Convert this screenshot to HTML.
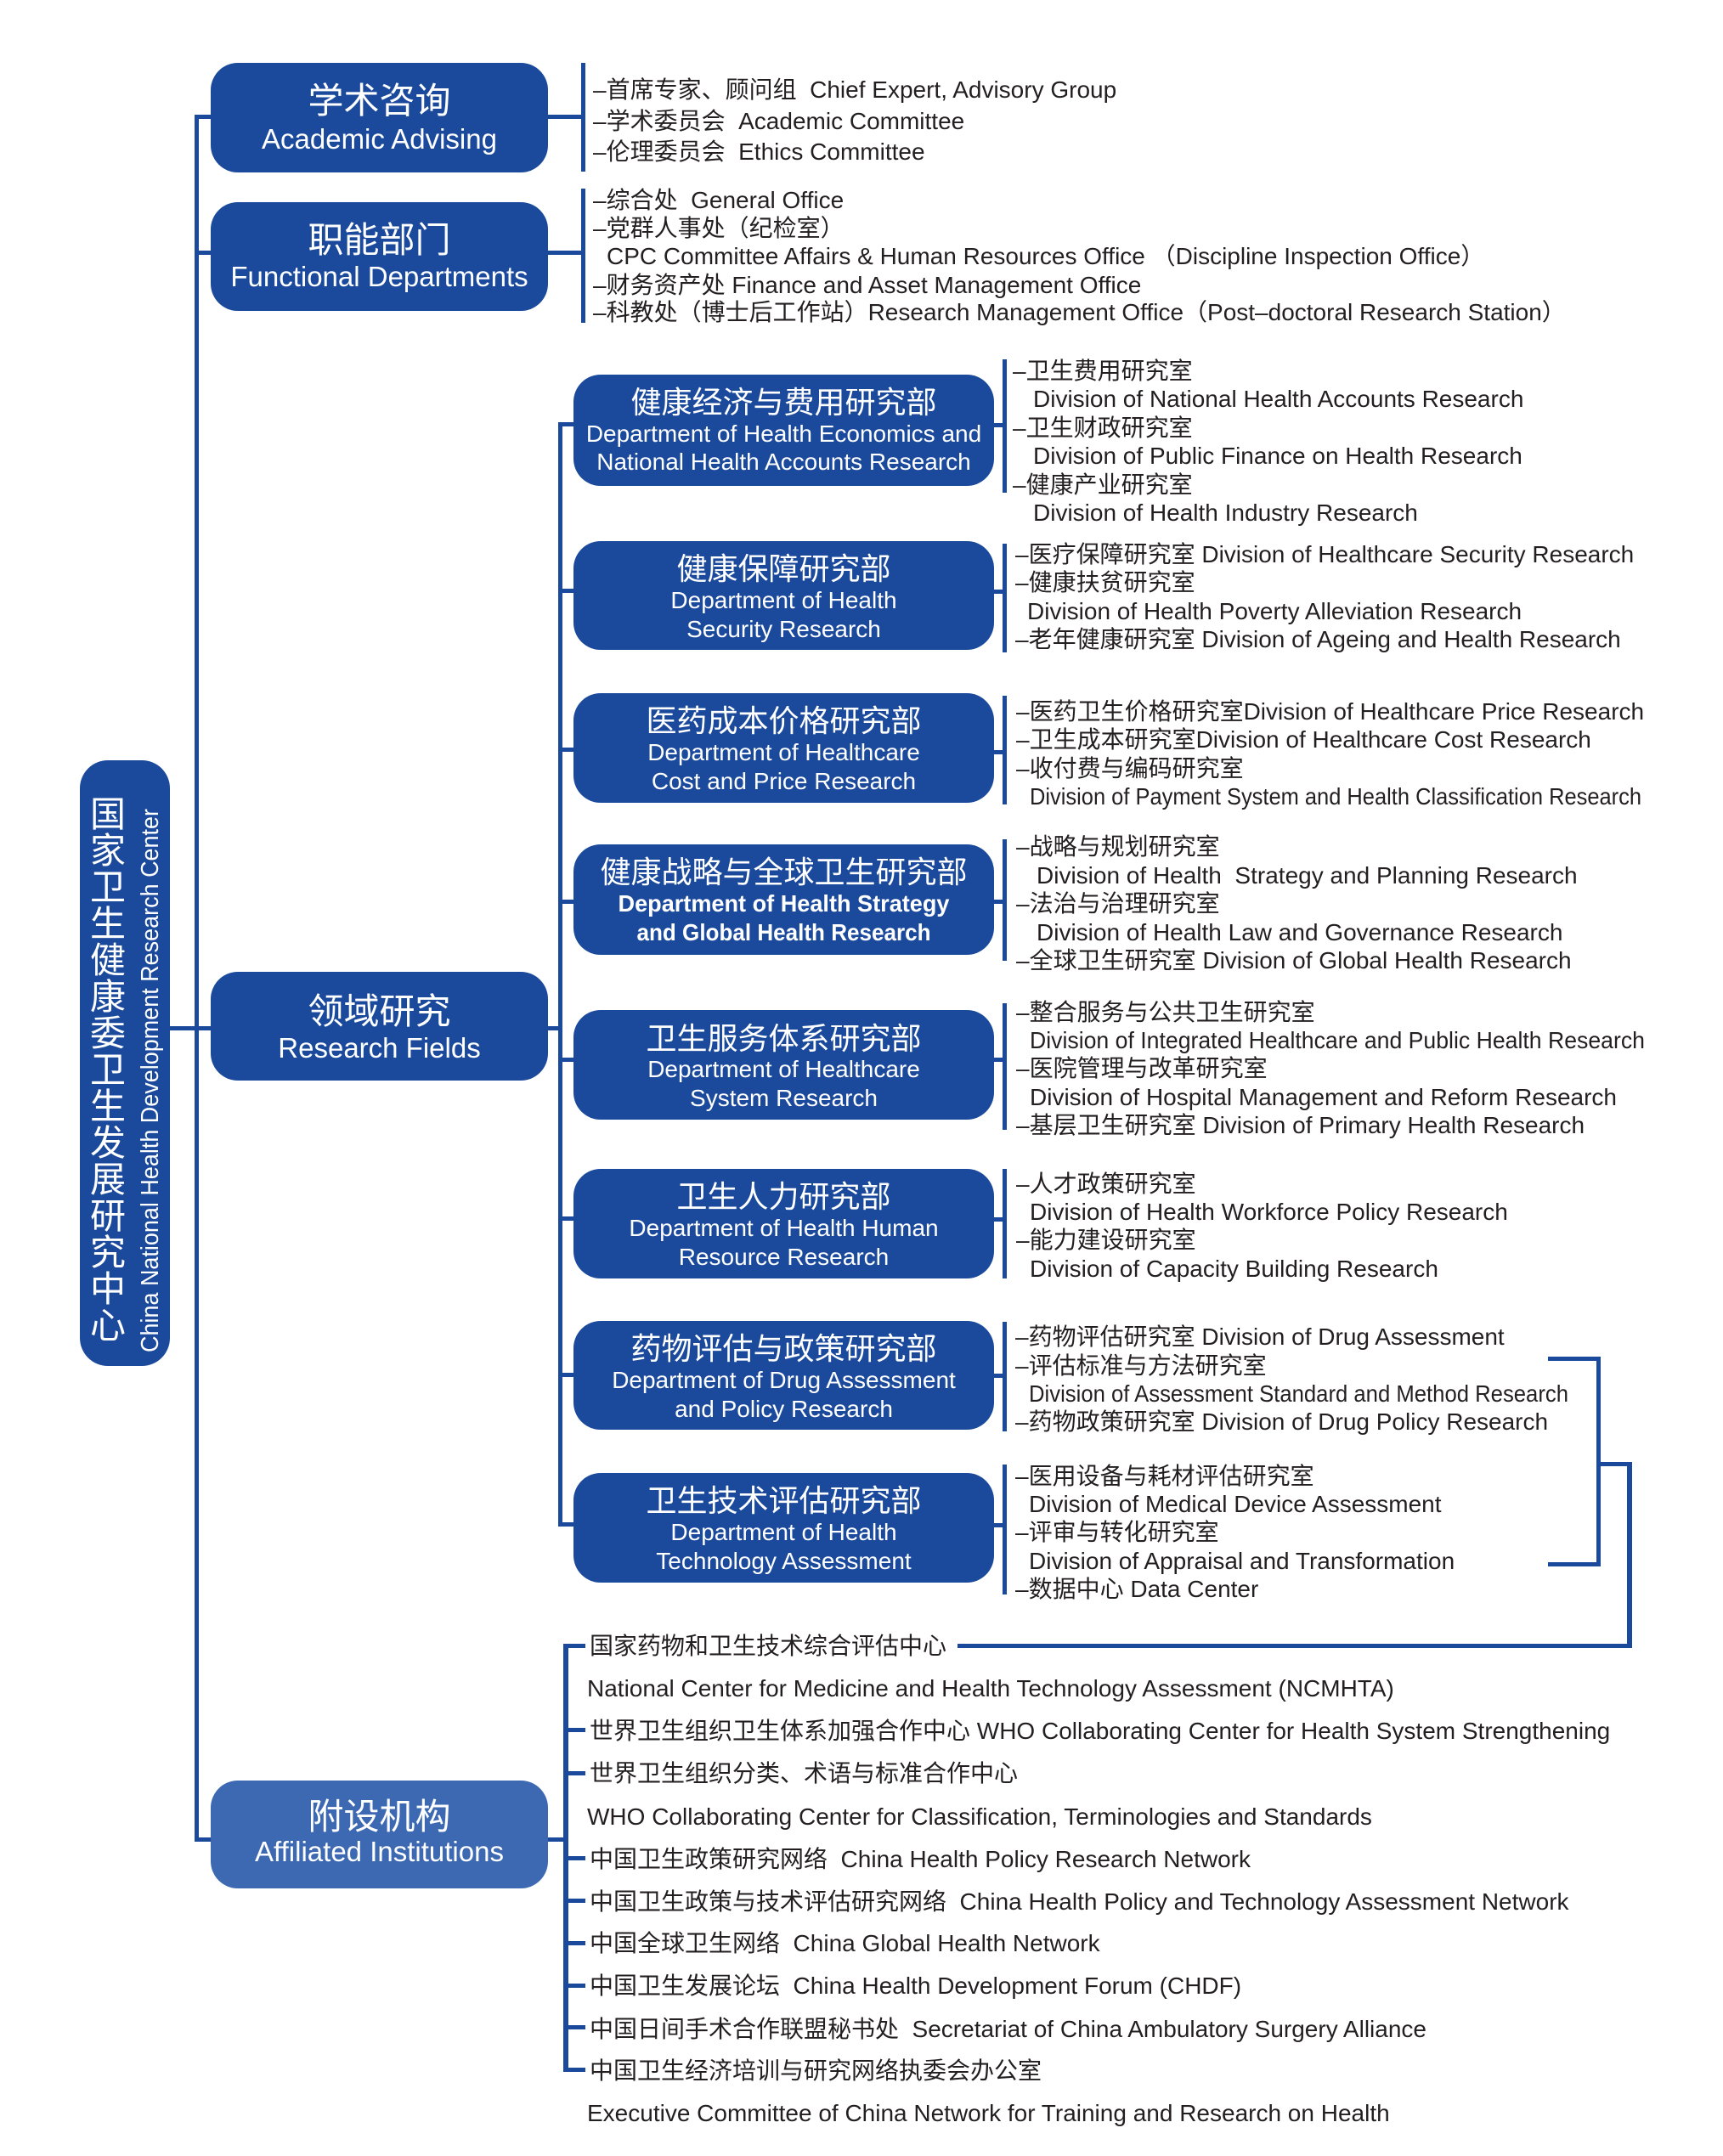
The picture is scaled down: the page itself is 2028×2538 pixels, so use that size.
<!DOCTYPE html>
<html>
<head>
<meta charset="utf-8">
<style>
html,body{margin:0;padding:0;background:#fff;}
svg{display:block;}
text{font-family:'Liberation Sans','Noto Sans CJK SC',sans-serif;white-space:pre;}
.t{font-size:28px;fill:#231f20;}
.w{fill:#fff;}
</style>
</head>
<body>
<svg width="2028" height="2538" viewBox="0 0 2028 2538" xmlns="http://www.w3.org/2000/svg" xml:space="preserve">
<rect x="0" y="0" width="2028" height="2538" fill="#fff"/>
<g fill="#1b4a9d">
<!-- trunk -->
<rect x="229" y="135" width="5" height="2033"/>
<rect x="229" y="135" width="19" height="5"/>
<rect x="229" y="295" width="19" height="5"/>
<rect x="200" y="1208" width="48" height="5"/>
<rect x="229" y="2163" width="19" height="5"/>
<!-- center box -->
<rect x="94" y="895" width="106" height="713" rx="33"/>
<!-- level1 boxes -->
<rect x="248" y="74" width="397" height="129" rx="32"/>
<rect x="248" y="238" width="397" height="128" rx="32"/>
<rect x="248" y="1144" width="397" height="128" rx="32"/>
<!-- right connectors level1 -->
<rect x="645" y="135" width="40" height="5"/>
<rect x="684" y="74" width="5" height="128"/>
<rect x="645" y="295" width="40" height="5"/>
<rect x="684" y="222" width="5" height="158"/>
<rect x="645" y="1208" width="14" height="5"/>
<rect x="657" y="497" width="5" height="1300"/>
<rect x="645" y="2163" width="20" height="5"/>
<rect x="663" y="1935" width="6" height="504"/>
<!-- affiliated ticks -->
<rect x="663" y="1935" width="26" height="5"/>
<rect x="663" y="2034" width="26" height="5"/>
<rect x="663" y="2085" width="26" height="5"/>
<rect x="663" y="2185" width="26" height="5"/>
<rect x="663" y="2235" width="26" height="5"/>
<rect x="663" y="2285" width="26" height="5"/>
<rect x="663" y="2335" width="26" height="5"/>
<rect x="663" y="2384" width="26" height="5"/>
<rect x="663" y="2434" width="26" height="5"/>
<!-- level2 boxes -->
<rect x="675" y="441" width="495" height="131" rx="32"/>
<rect x="675" y="637" width="495" height="128" rx="32"/>
<rect x="675" y="816" width="495" height="129" rx="32"/>
<rect x="675" y="994" width="495" height="130" rx="32"/>
<rect x="675" y="1189" width="495" height="129" rx="32"/>
<rect x="675" y="1376" width="495" height="129" rx="32"/>
<rect x="675" y="1555" width="495" height="128" rx="32"/>
<rect x="675" y="1734" width="495" height="129" rx="32"/>
<!-- left branches level2 -->
<rect x="657" y="497" width="20" height="5"/>
<rect x="657" y="693" width="20" height="5"/>
<rect x="657" y="880" width="20" height="5"/>
<rect x="657" y="1059" width="20" height="5"/>
<rect x="657" y="1245" width="20" height="5"/>
<rect x="657" y="1432" width="20" height="5"/>
<rect x="657" y="1616" width="20" height="5"/>
<rect x="657" y="1792" width="20" height="5"/>
<!-- right connectors + brackets level2 -->
<rect x="1168" y="498" width="14" height="5"/><rect x="1180" y="423" width="5" height="157"/>
<rect x="1168" y="694" width="14" height="5"/><rect x="1180" y="640" width="5" height="128"/>
<rect x="1168" y="883" width="14" height="5"/><rect x="1180" y="819" width="5" height="128"/>
<rect x="1168" y="1059" width="14" height="5"/><rect x="1180" y="988" width="5" height="143"/>
<rect x="1168" y="1245" width="14" height="5"/><rect x="1180" y="1181" width="5" height="149"/>
<rect x="1168" y="1433" width="14" height="5"/><rect x="1180" y="1376" width="5" height="129"/>
<rect x="1168" y="1617" width="14" height="5"/><rect x="1180" y="1556" width="5" height="129"/>
<rect x="1168" y="1793" width="14" height="5"/><rect x="1180" y="1724" width="5" height="153"/>
<!-- small bracket to NCMHTA -->
<rect x="1822" y="1597" width="62" height="5"/>
<rect x="1879" y="1597" width="5" height="246"/>
<rect x="1822" y="1839" width="62" height="5"/>
<rect x="1879" y="1721" width="42" height="5"/>
<rect x="1915" y="1721" width="6" height="219"/>
<rect x="1127" y="1935" width="794" height="5"/>
</g>
<rect x="248" y="2096" width="397" height="127" rx="32" fill="#3d69b3"/>

<!-- center box text -->
<g class="w" font-size="42" text-anchor="middle">
<text x="127" y="973">国</text>
<text x="127" y="1016">家</text>
<text x="127" y="1059">卫</text>
<text x="127" y="1102">生</text>
<text x="127" y="1145">健</text>
<text x="127" y="1188">康</text>
<text x="127" y="1231">委</text>
<text x="127" y="1274">卫</text>
<text x="127" y="1317">生</text>
<text x="127" y="1360">发</text>
<text x="127" y="1403">展</text>
<text x="127" y="1446">研</text>
<text x="127" y="1489">究</text>
<text x="127" y="1532">中</text>
<text x="127" y="1575">心</text>
</g>
<text class="w" font-size="29" transform="translate(186,1592) rotate(-90)" textLength="640" lengthAdjust="spacingAndGlyphs">China National Health Development Research Center</text>

<!-- level1 texts -->
<g class="w" text-anchor="middle">
<text x="446.5" y="133" font-size="42">学术咨询</text>
<text x="446.5" y="175" font-size="33">Academic Advising</text>
<text x="446.5" y="297" font-size="42">职能部门</text>
<text x="446.5" y="337" font-size="33">Functional Departments</text>
<text x="446.5" y="1205" font-size="42">领域研究</text>
<text x="446.5" y="1245" font-size="33">Research Fields</text>
<text x="446.5" y="2153" font-size="42">附设机构</text>
<text x="446.5" y="2191" font-size="33">Affiliated Institutions</text>
</g>

<!-- level2 texts -->
<g class="w" text-anchor="middle">
<text x="922.5" y="486" font-size="36">健康经济与费用研究部</text>
<text x="922.5" y="520" font-size="28">Department of Health Economics and</text>
<text x="922.5" y="553" font-size="28">National Health Accounts Research</text>

<text x="922.5" y="682" font-size="36">健康保障研究部</text>
<text x="922.5" y="716" font-size="28">Department of Health</text>
<text x="922.5" y="750" font-size="28">Security Research</text>

<text x="922.5" y="861" font-size="36">医药成本价格研究部</text>
<text x="922.5" y="895" font-size="28">Department of Healthcare</text>
<text x="922.5" y="929" font-size="28">Cost and Price Research</text>

<text x="922.5" y="1039" font-size="36">健康战略与全球卫生研究部</text>
<text x="922.5" y="1073" font-size="28" font-weight="bold" textLength="390" lengthAdjust="spacingAndGlyphs">Department of Health Strategy</text>
<text x="922.5" y="1107" font-size="28" font-weight="bold" textLength="346" lengthAdjust="spacingAndGlyphs">and Global Health Research</text>

<text x="922.5" y="1235" font-size="36">卫生服务体系研究部</text>
<text x="922.5" y="1268" font-size="28">Department of Healthcare</text>
<text x="922.5" y="1302" font-size="28">System Research</text>

<text x="922.5" y="1421" font-size="36">卫生人力研究部</text>
<text x="922.5" y="1455" font-size="28">Department of Health Human</text>
<text x="922.5" y="1489" font-size="28">Resource Research</text>

<text x="922.5" y="1600" font-size="36">药物评估与政策研究部</text>
<text x="922.5" y="1634" font-size="28">Department of Drug Assessment</text>
<text x="922.5" y="1668" font-size="28">and Policy Research</text>

<text x="922.5" y="1779" font-size="36">卫生技术评估研究部</text>
<text x="922.5" y="1813" font-size="28">Department of Health</text>
<text x="922.5" y="1847" font-size="28">Technology Assessment</text>
</g>

<!-- level1 lists -->
<g class="t">
<text x="698" y="115">–首席专家、顾问组  Chief Expert, Advisory Group</text>
<text x="698" y="152">–学术委员会  Academic Committee</text>
<text x="698" y="188">–伦理委员会  Ethics Committee</text>

<text x="698" y="245">–综合处  General Office</text>
<text x="698" y="278">–党群人事处（纪检室）</text>
<text x="714" y="311">CPC Committee Affairs &amp; Human Resources Office （Discipline Inspection Office）</text>
<text x="698" y="345">–财务资产处 Finance and Asset Management Office</text>
<text x="698" y="377">–科教处（博士后工作站）Research Management Office（Post–doctoral Research Station）</text>
</g>

<!-- level2 lists -->
<g class="t">
<text x="1192" y="446">–卫生费用研究室</text>
<text x="1216" y="479">Division of National Health Accounts Research</text>
<text x="1192" y="513">–卫生财政研究室</text>
<text x="1216" y="546">Division of Public Finance on Health Research</text>
<text x="1192" y="580">–健康产业研究室</text>
<text x="1216" y="613">Division of Health Industry Research</text>

<text x="1195" y="662">–医疗保障研究室 Division of Healthcare Security Research</text>
<text x="1195" y="695">–健康扶贫研究室</text>
<text x="1209" y="729">Division of Health Poverty Alleviation Research</text>
<text x="1195" y="762">–老年健康研究室 Division of Ageing and Health Research</text>

<text x="1196" y="847">–医药卫生价格研究室Division of Healthcare Price Research</text>
<text x="1196" y="880">–卫生成本研究室Division of Healthcare Cost Research</text>
<text x="1196" y="914">–收付费与编码研究室</text>
<text x="1212" y="947" textLength="720" lengthAdjust="spacingAndGlyphs">Division of Payment System and Health Classification Research</text>

<text x="1196" y="1006">–战略与规划研究室</text>
<text x="1220" y="1040">Division of Health  Strategy and Planning Research</text>
<text x="1196" y="1073">–法治与治理研究室</text>
<text x="1220" y="1107">Division of Health Law and Governance Research</text>
<text x="1196" y="1140">–全球卫生研究室 Division of Global Health Research</text>

<text x="1196" y="1201">–整合服务与公共卫生研究室</text>
<text x="1212" y="1234" textLength="724" lengthAdjust="spacingAndGlyphs">Division of Integrated Healthcare and Public Health Research</text>
<text x="1196" y="1267">–医院管理与改革研究室</text>
<text x="1212" y="1301">Division of Hospital Management and Reform Research</text>
<text x="1196" y="1334">–基层卫生研究室 Division of Primary Health Research</text>

<text x="1196" y="1403">–人才政策研究室</text>
<text x="1212" y="1436">Division of Health Workforce Policy Research</text>
<text x="1196" y="1469">–能力建设研究室</text>
<text x="1212" y="1503">Division of Capacity Building Research</text>

<text x="1195" y="1583">–药物评估研究室 Division of Drug Assessment</text>
<text x="1195" y="1617">–评估标准与方法研究室</text>
<text x="1211" y="1650" textLength="635" lengthAdjust="spacingAndGlyphs">Division of Assessment Standard and Method Research</text>
<text x="1195" y="1683">–药物政策研究室 Division of Drug Policy Research</text>

<text x="1195" y="1747">–医用设备与耗材评估研究室</text>
<text x="1211" y="1780">Division of Medical Device Assessment</text>
<text x="1195" y="1813">–评审与转化研究室</text>
<text x="1211" y="1847">Division of Appraisal and Transformation</text>
<text x="1195" y="1880">–数据中心 Data Center</text>
</g>

<!-- affiliated list -->
<g class="t">
<text x="694" y="1947">国家药物和卫生技术综合评估中心</text>
<text x="691" y="1997">National Center for Medicine and Health Technology Assessment (NCMHTA)</text>
<text x="694" y="2047">世界卫生组织卫生体系加强合作中心 WHO Collaborating Center for Health System Strengthening</text>
<text x="694" y="2097">世界卫生组织分类、术语与标准合作中心</text>
<text x="691" y="2148">WHO Collaborating Center for Classification, Terminologies and Standards</text>
<text x="694" y="2198">中国卫生政策研究网络  China Health Policy Research Network</text>
<text x="694" y="2248">中国卫生政策与技术评估研究网络  China Health Policy and Technology Assessment Network</text>
<text x="694" y="2297">中国全球卫生网络  China Global Health Network</text>
<text x="694" y="2347">中国卫生发展论坛  China Health Development Forum (CHDF)</text>
<text x="694" y="2398">中国日间手术合作联盟秘书处  Secretariat of China Ambulatory Surgery Alliance</text>
<text x="694" y="2447">中国卫生经济培训与研究网络执委会办公室</text>
<text x="691" y="2497">Executive Committee of China Network for Training and Research on Health</text>
</g>
</svg>
</body>
</html>
